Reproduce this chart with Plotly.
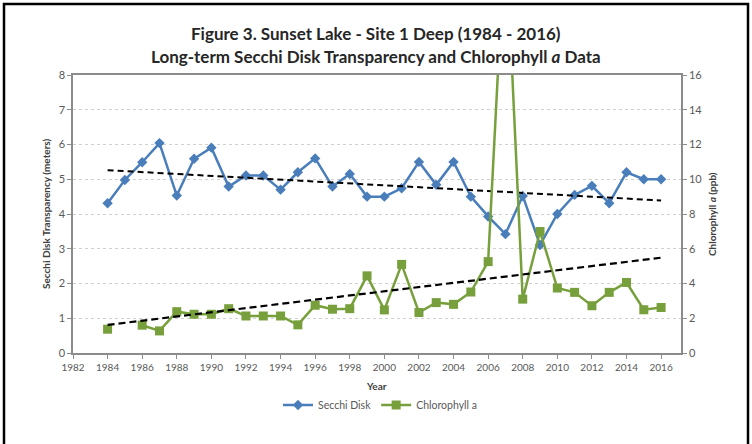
import numpy as np
import plotly.graph_objects as go

years = list(range(1984, 2017))
secchi = [4.31, 4.98, 5.49, 6.04, 4.53, 5.59, 5.91, 4.79, 5.11, 5.11, 4.70,
          5.20, 5.60, 4.79, 5.15, 4.50, 4.50, 4.74, 5.50, 4.84, 5.50, 4.50,
          3.93, 3.42, 4.52, 3.11, 4.00, 4.55, 4.81, 4.31, 5.20, 5.00, 5.00]
chl = [1.37, None, 1.60, 1.27, 2.38, 2.23, 2.23, 2.55, 2.13, 2.13, 2.13,
       1.62, 2.75, 2.52, 2.55, 4.44, 2.48, 5.10, 2.33, 2.90, 2.80, 3.51,
       5.26, 24.5, 3.10, 6.99, 3.74, 3.49, 2.72, 3.49, 4.06, 2.49, 2.62]
x_ticks = list(range(1982, 2017, 2))

# linear trendlines (as Excel does)
yr = np.array(years, dtype=float)
s_arr = np.array(secchi, dtype=float)
c_arr = np.array([np.nan if v is None else v for v in chl], dtype=float)
ms = np.polyfit(yr, s_arr, 1)
ok = ~np.isnan(c_arr)
mc = np.polyfit(yr[ok], c_arr[ok], 1)
trend_x = [years[0], years[-1]]
s_trend = list(np.polyval(ms, trend_x))
c_trend = list(np.polyval(mc, trend_x))

W, H = 752, 444
L, R, T, B = 73, 681, 75, 353
pw, ph = R - L, B - T

def px(x):
    return (x - L) / pw

def py(y):
    return (B - y) / ph

BLUE = "#4A7EBB"
GREEN = "#77A03C"
FONT = "Lato"
GRAY_TXT = "#595959"
AXIS = "#8C8C8C"

fig = go.Figure()
fig.add_trace(go.Scatter(x=years, y=secchi, name="Secchi Disk", mode="lines+markers",
                         line=dict(color=BLUE, width=2.5),
                         marker=dict(symbol="diamond", size=8, color=BLUE)))
fig.add_trace(go.Scatter(x=years, y=chl, name="Chlorophyll a", mode="lines+markers",
                         yaxis="y2", connectgaps=False,
                         line=dict(color=GREEN, width=2.5),
                         marker=dict(symbol="square", size=9, color=GREEN)))
fig.add_trace(go.Scatter(x=trend_x, y=s_trend, mode="lines", showlegend=False,
                         line=dict(color="black", width=2, dash="6px,4px")))
fig.add_trace(go.Scatter(x=trend_x, y=c_trend, mode="lines", showlegend=False, yaxis="y2",
                         line=dict(color="black", width=2.2, dash="7px,4px")))

fig.update_layout(
    width=W, height=H,
    margin=dict(l=L, r=W - R, t=T, b=H - B),
    paper_bgcolor="white", plot_bgcolor="white",
    font=dict(family=FONT, color=GRAY_TXT, size=10),
    xaxis=dict(range=[1982, 2017.15], tickvals=x_ticks, ticks="outside", ticklen=4,
               tickcolor=AXIS, showline=True, linecolor=AXIS, linewidth=1.5,
               mirror=True, showgrid=False, zeroline=False,
               tickfont=dict(size=10, color=GRAY_TXT, family=FONT)),
    yaxis=dict(range=[0, 8], dtick=1, ticks="outside", ticklen=4, tickcolor=AXIS,
               showline=True, linecolor=AXIS, linewidth=1.5, zeroline=False,
               showgrid=True, gridcolor="#D0D0D0", griddash="3px,3px", gridwidth=1,
               tickfont=dict(size=11, color=GRAY_TXT, family=FONT)),
    yaxis2=dict(range=[0, 16], dtick=2, overlaying="y", side="right", ticks="outside",
                ticklen=4, tickcolor=AXIS, showline=True, linecolor=AXIS, linewidth=1.5,
                showgrid=False, zeroline=False,
                tickfont=dict(size=11, color=GRAY_TXT, family=FONT)),
    showlegend=True,
    legend=dict(orientation="h", x=px(380), xanchor="center", y=py(405), yanchor="middle",
                font=dict(size=10.5, color=GRAY_TXT, family=FONT), itemwidth=30,
                bgcolor="rgba(0,0,0,0)"),
)

def ann(text, x, y, size, color="#404040", angle=0):
    fig.add_annotation(text=text, x=px(x), y=py(y), xref="paper", yref="paper",
                       xanchor="center", yanchor="middle", showarrow=False,
                       textangle=angle, font=dict(size=size, color=color, family=FONT))

ann("<b>Figure 3. Sunset Lake - Site 1 Deep (1984 - 2016)</b>", 376, 33, 17, "#262626")
ann("<b>Long-term Secchi Disk Transparency and Chlorophyll <i>a</i> Data</b>", 376, 57, 17, "#262626")
ann("<b>Secchi Disk Transparency (meters)</b>", 46, 214, 10, angle=-90)
ann("<b>Chlorophyll <i>a</i> (ppb)</b>", 712, 214, 10, angle=-90)
ann("<b>Year</b>", 376, 386, 10)

fig.add_shape(type="rect", xref="paper", yref="paper",
              x0=px(4), x1=px(748), y0=py(470), y1=py(4),
              line=dict(color="black", width=2.5), fillcolor="rgba(0,0,0,0)", layer="above")

fig.write_html("out.html", config={"displayModeBar": False},
               post_script="document.body.style.margin='0px';document.body.style.overflow='hidden';")
